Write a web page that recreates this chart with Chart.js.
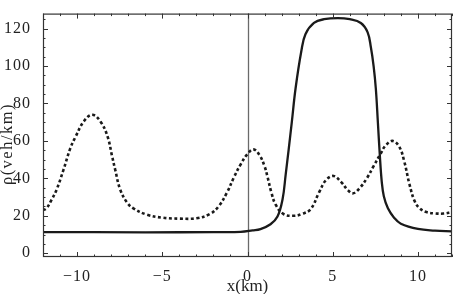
<!DOCTYPE html>
<html><head><meta charset="utf-8">
<script src="https://cdn.jsdelivr.net/npm/chart.js@4"></script>
<style>html,body{margin:0;padding:0;background:#fff}</style>
</head><body>
<canvas id="c" width="460" height="294"></canvas>
<script>
const xTickValues = [-10, -5, 0, 5, 10];
const yTickValues = [0, 20, 40, 60, 80, 100, 120];
const xTitle = 'x(km)';
const yTitle = 'ρ(veh/km)';

const solidX = [-12, -6, -2, -0.4, 0.3, 0.76, 1.35, 1.76, 2.06, 2.24, 2.41, 2.6, 2.82, 3.16, 3.4, 3.9, 4.5, 5.3, 6.0, 6.65, 7.05, 7.24, 7.4, 7.53, 7.65, 7.76, 7.88, 8.0, 8.24, 8.6, 9, 10, 11, 12];
const solidY = [11.3, 11.2, 11.3, 11.4, 12.2, 12.9, 15.5, 19.6, 29, 42, 55, 70, 88, 108, 117, 123, 125, 125.6, 125, 123, 118, 110, 100, 88, 70, 53, 38, 30.5, 24, 19, 15.8, 13, 12.1, 11.7];

const dottedX = [-12, -11.8, -11.5, -11.2, -10.8, -10.4, -10.1, -9.6, -9.1, -8.6, -8.2, -7.95, -7.76, -7.47, -7.06, -6.7, -5.9, -5, -4, -3, -2.2, -1.7, -1.2, -0.8, -0.4, 0, 0.35, 0.7, 1.0, 1.17, 1.4, 1.65, 2.1, 2.7, 3.2, 3.7, 4.2, 4.6, 5.05, 5.5, 5.9, 6.2, 6.6, 7.0, 7.4, 7.8, 8.1, 8.5, 8.9, 9.2, 9.5, 9.8, 10.1, 10.5, 11, 11.5, 12];
const dottedY = [23, 24, 28.5, 34, 44.5, 56, 62, 70.5, 74, 70, 62, 52, 44.5, 34, 27, 24, 20.6, 19, 18.5, 18.7, 21, 25, 32.5, 40.5, 47.5, 53, 55.5, 52.5, 46.5, 41, 32.5, 26, 21, 20, 21, 23.5, 32.5, 39, 41.3, 38, 33.6, 32, 35, 40, 46.5, 53, 57.5, 60, 57, 49, 37, 28, 24, 22, 21.3, 21.2, 22];

const toPts = (xs, ys) => xs.map((x, i) => ({x: x, y: ys[i]}));

const serif = '"Liberation Serif", "Times New Roman", serif';

const framePlugin = {
  id: 'frame',
  beforeDraw(chart) {
    chart.ctx.letterSpacing = '1px';
  },
  beforeDatasetsDraw(chart) {
    const ctx = chart.ctx, a = chart.chartArea, xs = chart.scales.x;
    const px = Math.round(xs.getPixelForValue(0)) + 0.5;
    ctx.save();
    ctx.strokeStyle = '#6a6a6a';
    ctx.lineWidth = 1.3;
    ctx.beginPath();
    ctx.moveTo(px, a.top);
    ctx.lineTo(px, a.bottom);
    ctx.stroke();
    ctx.restore();
  },
  afterDatasetsDraw(chart) {
    const ctx = chart.ctx, a = chart.chartArea, xs = chart.scales.x, ys = chart.scales.y;
    ctx.save();
    ctx.strokeStyle = '#333';
    ctx.lineWidth = 1;
    ctx.beginPath();
    for (let v = Math.ceil(xs.min); v <= xs.max; v++) {
      const p = Math.round(xs.getPixelForValue(v)) + 0.5;
      const len = (v % 5 === 0) ? 5 : 2.5;
      ctx.moveTo(p, a.bottom); ctx.lineTo(p, a.bottom - len);
      ctx.moveTo(p, a.top); ctx.lineTo(p, a.top + len);
    }
    for (let v = Math.ceil(ys.min / 5) * 5; v <= ys.max; v += 5) {
      const p = Math.round(ys.getPixelForValue(v)) + 0.5;
      const len = (v % 20 === 0) ? 5 : 2.5;
      ctx.moveTo(a.left, p); ctx.lineTo(a.left + len, p);
      ctx.moveTo(a.right, p); ctx.lineTo(a.right - len, p);
    }
    ctx.stroke();
    ctx.lineWidth = 1.2;
    ctx.strokeRect(a.left + 0.5, a.top + 0.5, a.right - a.left - 1, a.bottom - a.top - 1);
    ctx.restore();
  },
  afterDraw(chart) {
    const ctx = chart.ctx, a = chart.chartArea;
    ctx.save();
    ctx.fillStyle = '#222';
    ctx.textAlign = 'center';
    ctx.textBaseline = 'middle';
    ctx.letterSpacing = '0px';
    ctx.font = '17px ' + serif;
    ctx.fillText(xTitle, (a.left + a.right) / 2, 287);
    ctx.letterSpacing = '1.5px';
    ctx.font = '16.5px ' + serif;
    ctx.translate(7.5, 144);
    ctx.rotate(-Math.PI / 2);
    ctx.fillText(yTitle, 0, 0);
    ctx.restore();
  }
};

new Chart(document.getElementById('c'), {
  type: 'line',
  data: {
    datasets: [
      {
        label: 'solid',
        data: toPts(solidX, solidY),
        borderColor: '#1a1a1a',
        borderWidth: 2.3,
        pointRadius: 0,
        tension: 0.4,
        fill: false
      },
      {
        label: 'dotted',
        data: toPts(dottedX, dottedY),
        borderColor: '#1a1a1a',
        borderWidth: 2.6,
        borderDash: [3, 2.5],
        borderCapStyle: 'butt',
        pointRadius: 0,
        tension: 0.4,
        fill: false
      }
    ]
  },
  options: {
    responsive: false,
    animation: false,
    events: [],
    layout: {padding: {top: 5, right: 8, left: 0, bottom: 0}},
    plugins: {legend: {display: false}, tooltip: {enabled: false}},
    scales: {
      x: {
        type: 'linear',
        min: -12, max: 12,
        afterBuildTicks: s => { s.ticks = xTickValues.map(v => ({value: v})); },
        afterFit: s => { s.height = 37; },
        grid: {display: false},
        border: {display: false},
        ticks: {
          color: '#222',
          padding: 2,
          maxRotation: 0,
          font: {family: serif, size: 16},
          callback: v => (v < 0 ? '\u2212' + Math.abs(v) : String(v))
        }
      },
      y: {
        type: 'linear',
        min: -2, max: 128,
        afterBuildTicks: s => { s.ticks = yTickValues.map(v => ({value: v})); },
        afterFit: s => { s.width = 43; },
        grid: {display: false},
        border: {display: false},
        ticks: {
          color: '#222',
          padding: 4,
          font: {family: serif, size: 16}
        }
      }
    }
  },
  plugins: [framePlugin]
});
</script>
</body></html>
